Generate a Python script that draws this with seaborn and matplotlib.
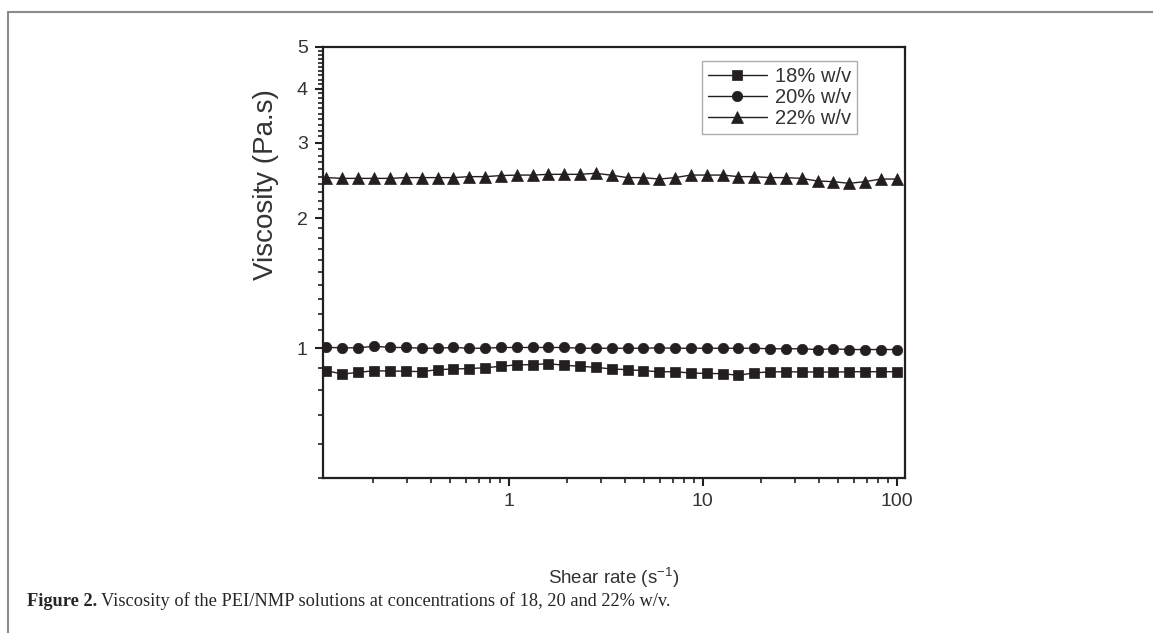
import matplotlib
matplotlib.use("Agg")
import matplotlib.pyplot as plt
from matplotlib.lines import Line2D
from matplotlib.ticker import FixedLocator, FixedFormatter, LogLocator, NullFormatter
import seaborn as sns
import numpy as np

# Shear rate (1/s), logarithmic ramp
shear_rate = [0.115, 0.139, 0.168, 0.203, 0.245, 0.295, 0.356, 0.430, 0.519, 0.626,
              0.755, 0.911, 1.10, 1.33, 1.60, 1.93, 2.33, 2.81, 3.40, 4.10,
              4.94, 5.97, 7.20, 8.69, 10.5, 12.7, 15.3, 18.4, 22.2, 26.8,
              32.4, 39.1, 47.1, 56.9, 68.6, 82.8, 100.0]

visc_18 = [0.887, 0.871, 0.879, 0.887, 0.885, 0.885, 0.882, 0.892, 0.895, 0.897,
           0.901, 0.908, 0.915, 0.916, 0.921, 0.913, 0.908, 0.903, 0.895, 0.892,
           0.887, 0.882, 0.882, 0.876, 0.874, 0.873, 0.865, 0.877, 0.881, 0.882,
           0.881, 0.881, 0.880, 0.882, 0.882, 0.882, 0.882]

visc_20 = [1.005, 1.002, 1.002, 1.011, 1.004, 1.004, 1.000, 1.000, 1.004, 1.000,
           1.000, 1.004, 1.004, 1.004, 1.004, 1.004, 1.000, 1.000, 1.000, 1.000,
           1.000, 1.002, 1.000, 1.000, 1.000, 1.000, 1.000, 1.000, 0.997, 0.997,
           0.997, 0.993, 0.997, 0.993, 0.993, 0.993, 0.993]

visc_22 = [2.488, 2.478, 2.478, 2.478, 2.478, 2.488, 2.488, 2.488, 2.488, 2.501,
           2.501, 2.515, 2.522, 2.522, 2.532, 2.532, 2.532, 2.546, 2.520, 2.488,
           2.488, 2.469, 2.488, 2.522, 2.522, 2.522, 2.501, 2.501, 2.488, 2.488,
           2.478, 2.443, 2.435, 2.413, 2.435, 2.469, 2.469]

labels = ["18% w/v", "20% w/v", "22% w/v"]
markers = ["s", "o", "^"]
msizes = [6.5, 7.5, 8.5]

sns.set_style("ticks")
plt.rcParams["font.family"] = ["Liberation Sans", "DejaVu Sans"]
plt.rcParams["mathtext.fontset"] = "custom"
plt.rcParams["mathtext.rm"] = "Liberation Sans"
plt.rcParams["mathtext.default"] = "regular"

fig = plt.figure(figsize=(11.53, 6.33), dpi=100)
ax = fig.add_axes([0.2801, 0.2449, 0.5048, 0.6809])

ink = "#231f20"
txt = "#333333"
for vals, lab, mk, ms in zip([visc_18, visc_20, visc_22], labels, markers, msizes):
    sns.lineplot(x=shear_rate, y=vals, ax=ax, color=ink, lw=1.0, marker=mk,
                 markersize=ms, markeredgecolor=ink, markeredgewidth=0.5,
                 label=lab)

ax.set_xscale("log")
ax.set_yscale("log")
ax.set_xlim(0.1104, 110.4)
ax.set_ylim(0.5, 5)

ax.yaxis.set_major_locator(FixedLocator([1, 2, 3, 4, 5]))
ax.yaxis.set_major_formatter(FixedFormatter(["1", "2", "3", "4", "5"]))
ax.yaxis.set_minor_locator(FixedLocator(np.arange(0.5, 5.0, 0.1)))
ax.yaxis.set_minor_formatter(NullFormatter())
ax.xaxis.set_major_locator(FixedLocator([1, 10, 100]))
ax.xaxis.set_major_formatter(FixedFormatter(["1", "10", "100"]))
ax.xaxis.set_minor_locator(LogLocator(base=10, subs=np.arange(2, 10)))
ax.xaxis.set_minor_formatter(NullFormatter())

for s in ax.spines.values():
    s.set_visible(True)
    s.set_linewidth(1.6)
    s.set_color(ink)
ax.tick_params(which="major", direction="out", length=6, width=1.5, color=ink,
               labelsize=14, labelcolor=txt, pad=5)
ax.tick_params(which="minor", direction="out", length=3.5, width=1.2, color=ink)
ax.tick_params(top=False, right=False, which="both")

ax.set_xlabel("Shear rate (s$^{-1}$)", fontsize=13.5, color=txt)
ax.xaxis.set_label_coords(0.5, -0.205)
ax.xaxis.label.set_va("top")
ax.set_ylabel("Viscosity (Pa.s)", fontsize=20, color=txt)
ax.yaxis.set_label_coords(-0.0756, 0.68)

leg = ax.legend(loc="upper right", bbox_to_anchor=(0.9175, 0.968), borderaxespad=0,
                fontsize=14.5, frameon=True, fancybox=False, handlelength=2.9,
                labelspacing=0.1, borderpad=0.3, handletextpad=0.4)
leg.get_frame().set_edgecolor("#999999")
leg.get_frame().set_linewidth(1.0)
for t in leg.get_texts():
    t.set_color(txt)

# page frame of the article figure box
fig.add_artist(Line2D([8 / 1153, 1.0], [1 - 12 / 633, 1 - 12 / 633], color="#8c8c8c", lw=1.5))
fig.add_artist(Line2D([8 / 1153, 8 / 1153], [1 - 12 / 633, 0.0], color="#8c8c8c", lw=1.5))

serif = ["Liberation Serif", "DejaVu Serif"]
cap_y = 1 - 601 / 633
t1 = fig.text(27 / 1153, cap_y, "Figure 2.", fontsize=13.2, fontweight="bold",
              family=serif, va="center", ha="left")
fig.canvas.draw()
bb = t1.get_window_extent()
fig.text((bb.x1 + 4) / 1153, cap_y,
         "Viscosity of the PEI/NMP solutions at concentrations of 18, 20 and 22% w/v.",
         fontsize=13.2, family=serif, va="center", ha="left")

fig.savefig("out.png", dpi=100)
